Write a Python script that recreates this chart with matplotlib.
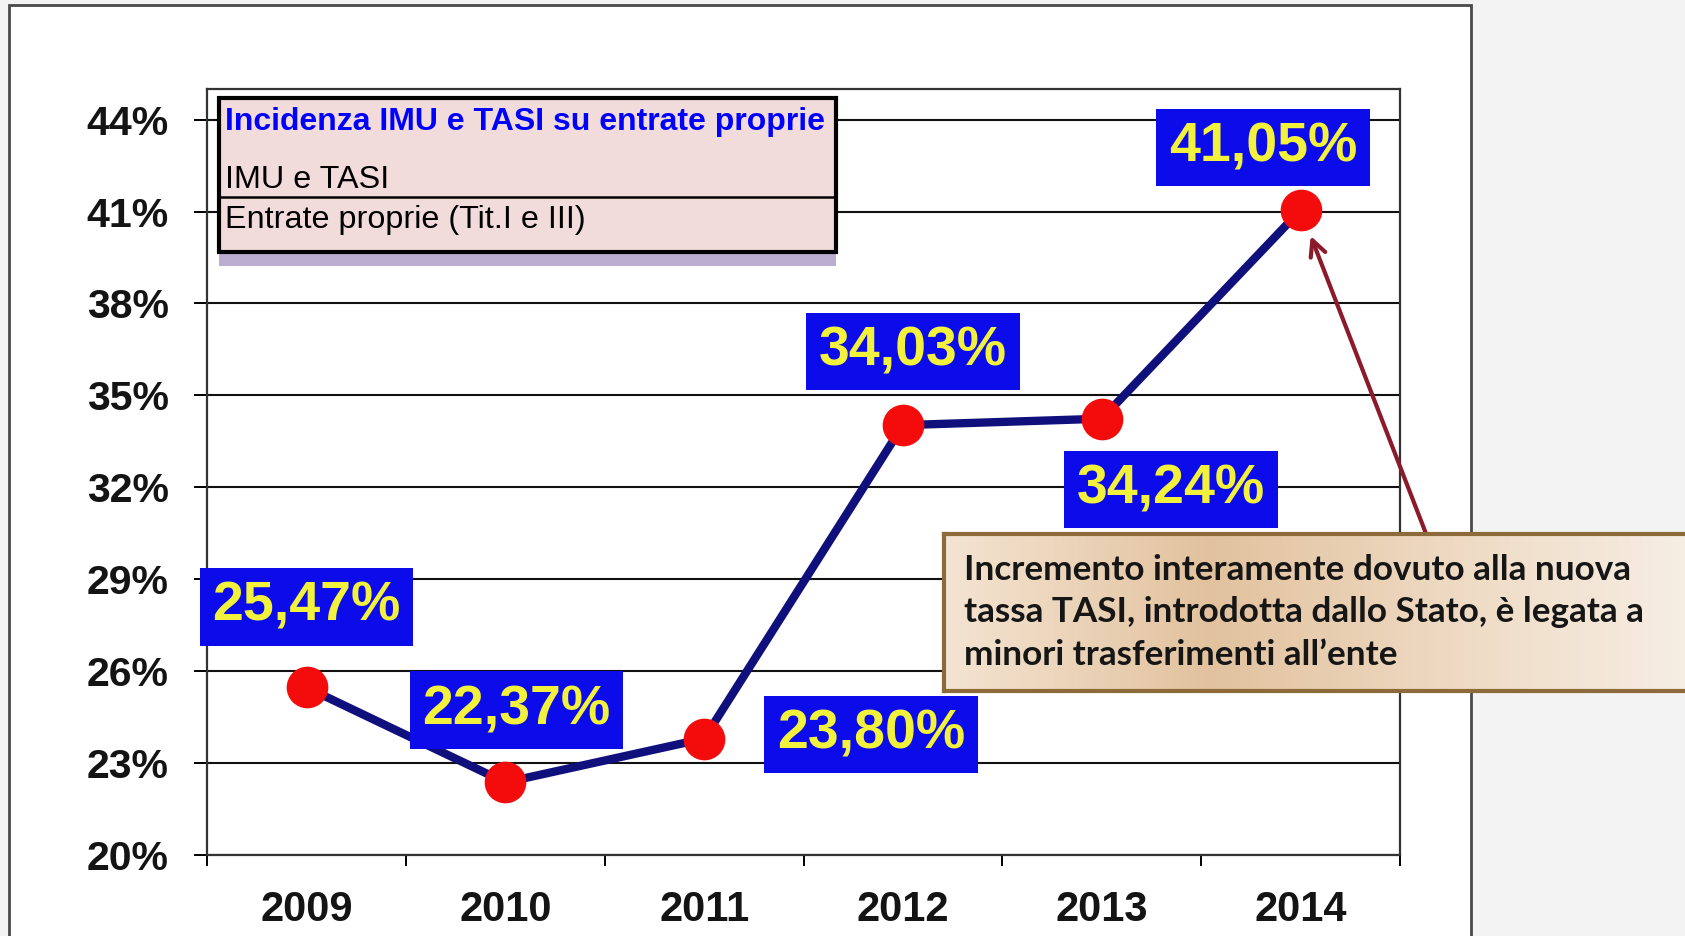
import numpy as np
import matplotlib
matplotlib.use("Agg")
import matplotlib.pyplot as plt
from matplotlib import font_manager
from matplotlib.patches import Rectangle
from matplotlib.lines import Line2D
from matplotlib.colors import LinearSegmentedColormap

# ---- data ----
years = ["2009", "2010", "2011", "2012", "2013", "2014"]
incidenza = [25.47, 22.37, 23.80, 34.03, 34.24, 41.05]
value_labels = ["25,47%", "22,37%", "23,80%", "34,03%", "34,24%", "41,05%"]
y_ticks = [20, 23, 26, 29, 32, 35, 38, 41, 44]
y_tick_labels = ["20%", "23%", "26%", "29%", "32%", "35%", "38%", "41%", "44%"]

legend_title = "Incidenza IMU e TASI su entrate proprie"
legend_rows = ["IMU e TASI", "Entrate proprie (Tit.I e III)"]
note = ("Incremento interamente dovuto alla nuova\n"
        "tassa TASI, introdotta dallo Stato, è legata a\n"
        "minori trasferimenti all\u2019ente")

# where each value box sits relative to its point (points)
label_offsets = [(0, 58), (8, 52), (120, 3), (7, 53), (50, -51), (-27, 45)]

# narrow font for axis labels if available
installed = {f.name for f in font_manager.fontManager.ttflist}
if "Liberation Sans Narrow" in installed:
    tick_font, x_size, y_size = "Liberation Sans Narrow", 36, 34
else:
    tick_font, x_size, y_size = "Liberation Sans", 30, 29.5

fig = plt.figure(figsize=(16.85, 9.36), dpi=100, facecolor="#f3f3f3")

# white slide panel
fig.add_artist(Rectangle((0.0053, -0.02), 0.8677, 1.0147, transform=fig.transFigure,
                         facecolor="white", edgecolor="#4a4a4a", lw=2, zorder=-1))

ax = fig.add_axes([0.1229, 0.0865, 0.708, 0.8184])
ax.set_facecolor("white")

x = np.arange(len(years))
ax.plot(x, incidenza, color="#10107c", lw=6, marker="o", ms=29,
        mfc="#f40c0c", mec="#f40c0c", zorder=3)

ax.set_xlim(-0.5, 5.5)
ax.set_ylim(20, 45)
ax.set_axisbelow(True)
ax.grid(axis="y", color="#111111", lw=1.5)
ax.grid(axis="x", visible=False)

ax.set_xticks(x, years)
ax.set_xticks(np.arange(-0.5, 6, 1), minor=True)
ax.tick_params(axis="x", which="major", length=0, pad=25)
ax.tick_params(axis="x", which="minor", length=8, width=1.4, direction="out")
ax.set_yticks(y_ticks, y_tick_labels)
ax.tick_params(axis="y", length=9.4, width=1.4, pad=18)
for lab in ax.get_xticklabels():
    lab.set_fontfamily(tick_font)
    lab.set_fontsize(x_size)
    lab.set_fontweight("bold")
    lab.set_color("#141414")
for lab in ax.get_yticklabels():
    lab.set_fontfamily(tick_font)
    lab.set_fontsize(y_size)
    lab.set_fontweight("bold")
    lab.set_color("#141414")
for s in ax.spines.values():
    s.set_color("#333333")
    s.set_linewidth(1.6)

# value boxes
for xi, yi, lab, (dx, dy) in zip(x, incidenza, value_labels, label_offsets):
    ax.annotate(lab, (xi, yi), xytext=(dx, dy), textcoords="offset points",
                ha="center", va="center", fontsize=40, fontweight="bold",
                family="Liberation Sans", color="#f2f23c", zorder=5,
                bbox=dict(boxstyle="square,pad=0.23", fc="#0c0ceb", ec="none"))

# arrow to the 2014 point
ax.annotate("", xy=(x[-1], incidenza[-1]), xytext=(0.848, 0.422),
            textcoords="figure fraction", annotation_clip=False,
            arrowprops=dict(arrowstyle="->", color="#8b1a2a", lw=3,
                            shrinkA=0, shrinkB=20, mutation_scale=28), zorder=4)

# legend box
fig.add_artist(Rectangle((0.1300, 0.7158), 0.3661, 0.0150, transform=fig.transFigure,
                         facecolor="#bcaed0", edgecolor="none", zorder=4))
fig.add_artist(Rectangle((0.1300, 0.7308), 0.3661, 0.1645, transform=fig.transFigure,
                         facecolor="#f2dcdb", edgecolor="black", lw=3, zorder=4))
fig.add_artist(Line2D([0.1300, 0.4961], [0.7895, 0.7895], transform=fig.transFigure,
                      color="black", lw=1.8, zorder=4))
fig.text(0.1335, 0.8611, legend_title, fontsize=23, fontweight="bold",
         family="Liberation Sans", color="#0000ff", va="baseline", zorder=6)
fig.text(0.1335, 0.7991, legend_rows[0], fontsize=23.3, family="Liberation Sans",
         color="black", va="baseline", zorder=6)
fig.text(0.1335, 0.7564, legend_rows[1], fontsize=23.3, family="Liberation Sans",
         color="black", va="baseline", zorder=6)

# note box with a warm gradient
note_ax = fig.add_axes([0.5602, 0.2618, 0.45, 0.1677], zorder=6)
cmap = LinearSegmentedColormap.from_list(
    "tan", [(0, "#f4e4d2"), (0.35, "#e2c29e"), (0.7, "#efdcc6"), (1, "#f7efe6")])
note_ax.imshow(np.linspace(0, 1, 256)[None, :], aspect="auto", cmap=cmap,
               extent=[0, 1, 0, 1])
note_ax.set_xticks([])
note_ax.set_yticks([])
for s in note_ax.spines.values():
    s.set_color("#8d6a3a")
    s.set_linewidth(3)
note_ax.text(0.0264, 0.5, note, transform=note_ax.transAxes, ha="left", va="center",
             fontsize=25.3, fontweight="bold", family="Lato", color="#161616",
             linespacing=1.42)

fig.savefig("out.png", dpi=100, facecolor=fig.get_facecolor())
